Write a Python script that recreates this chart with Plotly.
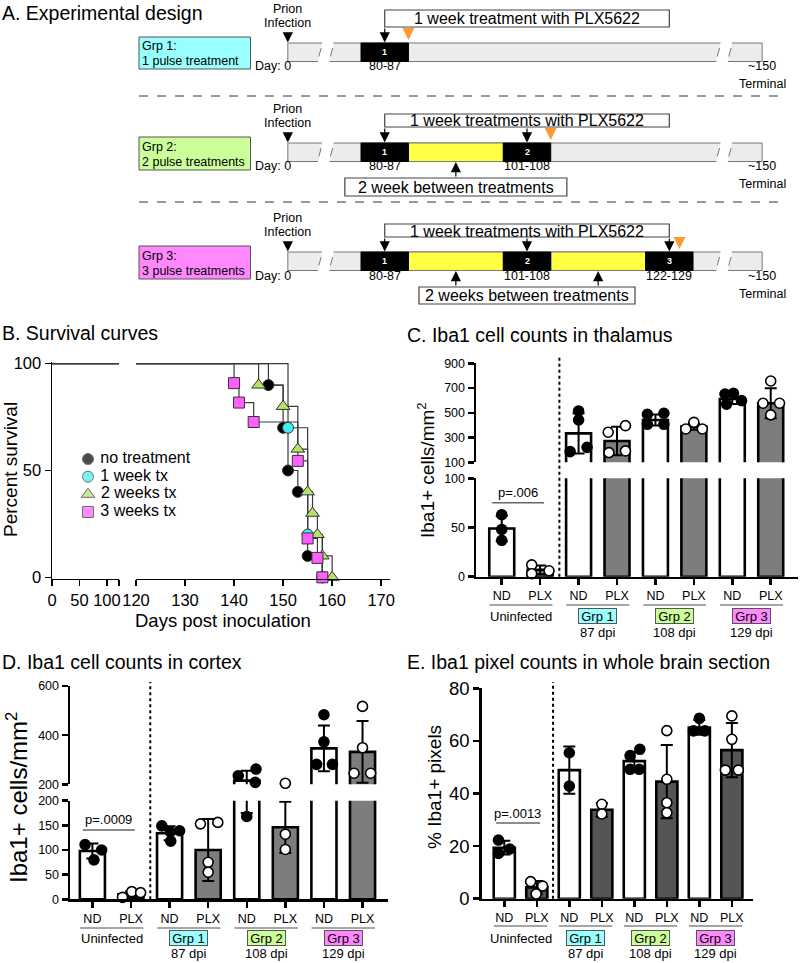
import plotly.graph_objects as go

FONT = "Liberation Sans, Arial, Helvetica, sans-serif"
W, H = 800, 963

# ====================== DATA ======================
# ---- Panel A: experimental design (schematic) ----
A_groups = ["Grp 1:", "Grp 2:", "Grp 3:"]
A_group_desc = ["1 pulse treatment", "2 pulse treatments", "3 pulse treatments"]
A_group_colors = ["#99ffff", "#ccff99", "#ff88ff"]
A_n_pulses = [1, 2, 3]
pulse_start = [80, 101, 122]
pulse_end = [87, 108, 129]
pulse_labels = ["80-87", "101-108", "122-129"]
pulse_numbers = ["1", "2", "3"]
sampling_day = [87, 108, 127]
A_treat_text = ["1 week treatment with PLX5622",
                "1 week treatments with PLX5622",
                "1 week treatments with PLX5622"]
A_gap_text = ["", "2 week between treatments", "2 weeks between treatments"]
infection_text = ["Prion", "Infection"]
day0_text = "Day: 0"
end_text = "~150"
terminal_text = "Terminal"
# schematic (broken) day positions
day0_pos = 69.2
end_pos = 139.2
break_pos = [74.8, 133.6]

# ---- Panel B: survival ----
B_groups = ["no treatment", "1 week tx", "2 weeks tx", "3 weeks tx"]
B_days = [
    [147, 150, 151, 153, 155, 158],
    [151, 155, 158],
    [145, 150, 153, 155, 156, 157, 158, 160],
    [140, 141, 144, 153, 155, 157, 158],
]
B_surv = [
    [90, 70, 50, 40, 10, 0],
    [70, 20, 0],
    [90, 80, 60, 40, 30, 20, 10, 0],
    [90.9, 81.8, 72.7, 54.5, 18.2, 9.1, 0],
]
B_colors = ["#000000", "#40f0f0", "#b5e36a", "#ff5eff"]
B_symbols = ["circle", "circle", "triangle-up", "square"]
B_sizes = [11, 11, 12, 11]
B_left_ticks = [0, 50, 100]
B_right_ticks = [120, 130, 140, 150, 160, 170]

# ---- Bar panels: common categories ----
cat_labels = ["ND", "PLX", "ND", "PLX", "ND", "PLX", "ND", "PLX"]
group_names = ["Uninfected", "Grp 1", "Grp 2", "Grp 3"]
group_dpi = ["", "87 dpi", "108 dpi", "129 dpi"]
group_colors = [None, "#99ffff", "#ccff99", "#ff88ff"]

# ---- Panel C: thalamus ----
C_mean = [49, 7, 334, 272, 442, 388, 612, 577]
C_sd = [13, 4.5, 162, 116, 45, 25, 40, 121]
C_points = [[63, 48, 37], [12, 3, 6], [515, 442, 186, 221], [343, 396, 178, 192],
            [488, 496, 407, 407], [369, 423, 369], [652, 658, 598, 569], [757, 577, 577, 483]]
C_offsets = [[0, 0, 0], [-0.22, -0.22, 0.23], [0, 0, -0.22, 0.22], [-0.23, 0.22, -0.21, 0.22],
             [-0.21, 0.22, -0.21, 0.22], [-0.21, 0, 0.22], [-0.19, 0.03, 0.24, -0.15], [0, -0.2, 0.23, 0]]
C_p = "p=.006"

# ---- Panel D: cortex ----
D_mean = [98, 10, 134, 100, 215, 146, 346, 332]
D_sd = [15, 6, 14, 63, 40, 52, 93, 126]
D_points = [[111, 100, 80], [4, 15.5, 13.5], [149, 137, 139, 118], [153, 156, 75, 55],
            [235, 262, 208, 168], [204, 132, 101], [483, 373, 281, 281], [517, 349, 245, 245]]
D_offsets = [[-0.19, 0.24, 0.04], [-0.22, 0.02, 0.25], [-0.2, 0.02, 0.26, 0.03], [-0.2, 0.25, 0, 0],
             [-0.22, 0.24, 0.22, 0], [0, 0, 0], [0, 0, -0.19, 0.22], [0, 0, -0.22, 0.21]]
D_p = "p=.0009"

# ---- Panel E: whole brain pixel counts ----
E_mean = [19.4, 4.3, 48.9, 33.8, 52.3, 44.5, 65.1, 56.5]
E_sd = [2.6, 2.4, 9, 2.6, 3.6, 13.9, 2.8, 10.3]
E_points = [[22.3, 18.9, 17.2], [6.5, 4.8, 1.8], [55.5, 42.8], [35.9, 32.2],
            [54.4, 56.8, 49.2, 49.2], [63.9, 45.4, 36.5, 32.7], [68.6, 63.8, 63.8], [69.5, 60.6, 48.9, 48.9]]
E_offsets = [[-0.18, 0.17, -0.18], [-0.19, 0.18, -0.02], [0, 0], [0, 0],
             [-0.13, 0.17, -0.13, 0.15], [0, 0, 0, 0], [0, -0.18, 0.17], [0, 0, -0.2, 0.2]]
E_p = "p=.0013"

# ====================== HELPERS ======================
fig = go.Figure()
shapes = []
anns = []


def py(p):
    return 1 - p / H


def pxx(p):
    return p / W


def dom_y(top, bottom):
    return [1 - bottom / H, 1 - top / H]


def dom_x(left, right):
    return [left / W, right / W]


def txt(x, y, s, size, xref="paper", yref="paper", xanchor="center", yanchor="middle",
        color="black", **kw):
    d = dict(x=x, y=y, xref=xref, yref=yref, text=s, showarrow=False,
             font=dict(size=size, color=color, family=FONT), xanchor=xanchor, yanchor=yanchor)
    d.update(kw)
    anns.append(d)


def arrow(x, tip_px, length_px, xref, color="black", up=False, width=1.2):
    anns.append(dict(x=x, y=py(tip_px), xref=xref, yref="paper", text="", showarrow=True,
                     ax=0, ay=(length_px if up else -length_px),
                     arrowhead=2, arrowsize=1.7, arrowwidth=width, arrowcolor=color, standoff=0))


# ====================== PANEL A ======================
XA = "x6"
px_per_day = 6.776
day_at_px0 = 80 - 361 / px_per_day
row_bar_top = [43, 143, 252]
row_bar_h = 18.5
row_treat_box = [(10, 27), (114, 127), (224, 237)]
row_group_box = [(37, 69), (137, 170), (246, 279)]
row_gap_box = [None, (178, 196, 222), (287, 304, 216)]

txt(pxx(0), py(13), "A. Experimental design", 19.5, xanchor="left")

mids = [(s + e) / 2 for s, e in zip(pulse_start, pulse_end)]
for r in range(3):
    top = row_bar_top[r]
    bot = top + row_bar_h
    n = A_n_pulses[r]
    # group label box
    gy0, gy1 = row_group_box[r]
    shapes.append(dict(type="rect", xref="paper", yref="paper", x0=pxx(139), x1=pxx(250.5),
                       y0=py(gy1), y1=py(gy0), fillcolor=A_group_colors[r],
                       line=dict(color="#555", width=1)))
    txt(pxx(140), py(gy0 + 9.5), A_groups[r], 12.5, xanchor="left")
    txt(pxx(140), py(gy0 + 24.5), A_group_desc[r], 12.5, xanchor="left")
    # timeline bar
    shapes.append(dict(type="rect", xref=XA, yref="paper", x0=day0_pos, x1=end_pos,
                       y0=py(bot), y1=py(top), fillcolor="#ececec", line=dict(color="#777", width=1)))
    for k in range(n):
        if k < n - 1:
            shapes.append(dict(type="rect", xref=XA, yref="paper", x0=pulse_end[k], x1=pulse_start[k + 1],
                               y0=py(bot), y1=py(top), fillcolor="#ffff44",
                               line=dict(color="#777", width=1)))
        shapes.append(dict(type="rect", xref=XA, yref="paper", x0=pulse_start[k], x1=pulse_end[k],
                           y0=py(bot), y1=py(top), fillcolor="black", line=dict(color="black", width=1)))
        txt(mids[k], py((top + bot) / 2), "<b>" + pulse_numbers[k] + "</b>", 9, xref=XA, color="white")
        txt(mids[k], py(top + 23.5), pulse_labels[k], 12.5, xref=XA)
    # axis breaks
    for b in break_pos:
        hw, sl = 0.85, 0.35
        path = (f"M {b - hw - sl},{py(bot + 1.5)} L {b + hw - sl},{py(bot + 1.5)} "
                f"L {b + hw + sl},{py(top - 1.5)} L {b - hw + sl},{py(top - 1.5)} Z")
        shapes.append(dict(type="path", xref=XA, yref="paper", path=path, fillcolor="white",
                           line=dict(width=0)))
        for e in (-hw, hw):
            shapes.append(dict(type="line", xref=XA, yref="paper", x0=b + e - sl * 0.5, x1=b + e + sl * 0.5,
                               y0=py(bot - 5), y1=py(top + 5), line=dict(color="#777", width=1)))
    # labels under bar
    txt(day0_pos, py(top + 23.5), day0_text, 12.5, xref=XA, xanchor="right", xshift=5)
    txt(end_pos, py(top + 23.5), end_text, 12.5, xref=XA)
    txt(end_pos, py(top + 41.5), terminal_text, 12.5, xref=XA)
    # infection
    txt(day0_pos, py(top - 34), infection_text[0], 12.5, xref=XA)
    txt(day0_pos, py(top - 20), infection_text[1], 12.5, xref=XA)
    arrow(day0_pos, top - 0.5, 11, XA)
    # treatment box
    ty0, ty1 = row_treat_box[r]
    shapes.append(dict(type="rect", xref=XA, yref="paper", x0=mids[0], x1=mids[-1],
                       y0=py(ty1), y1=py(ty0), fillcolor="white", line=dict(color="#444", width=1.2)))
    txt((mids[0] + mids[-1]) / 2, py((ty0 + ty1) / 2 + 0.5), A_treat_text[r], 16, xref=XA)
    for k in range(n):
        arrow(mids[k], top - 0.5, top - 0.5 - ty1, XA)
    # sampling (orange) arrow
    arrow(sampling_day[r], top - 3, 12, XA, color="#ff9933", width=1.4)
    # between-treatment box
    if n > 1:
        gy_top, gy_bot, gw = row_gap_box[r]
        gaps = [(pulse_end[k] + pulse_start[k + 1]) / 2 for k in range(n - 1)]
        for gm in gaps:
            arrow(gm, bot + 0.5, gy_top - bot - 0.5, XA, up=True)
        gc = sum(gaps) / len(gaps)
        half = gw / 2 / px_per_day
        shapes.append(dict(type="rect", xref=XA, yref="paper", x0=gc - half, x1=gc + half,
                           y0=py(gy_bot), y1=py(gy_top), fillcolor="white",
                           line=dict(color="#444", width=1.2)))
        txt(gc, py((gy_top + gy_bot) / 2 + 0.5), A_gap_text[r], 16, xref=XA)

for yy in (96, 202):
    shapes.append(dict(type="line", xref="paper", yref="paper", x0=pxx(139), x1=pxx(786),
                       y0=py(yy), y1=py(yy), line=dict(color="#333", width=1, dash="dash")))

fig.add_trace(go.Scatter(x=[None], y=[None], xaxis="x6", yaxis="y8", showlegend=False))

# ====================== PANEL B ======================
txt(pxx(0), py(333), "B. Survival curves", 19.5, xanchor="left")
for g in range(4):
    xs = [0] + B_days[g]
    ys = [100] + B_surv[g]
    for xa in ("x", "x2"):
        fig.add_trace(go.Scatter(x=xs, y=ys, mode="lines",
                                 line=dict(shape="hv", color="#3a3a3a", width=1.2),
                                 xaxis=xa, yaxis="y", showlegend=False, hoverinfo="skip"))
for g in range(4):
    fig.add_trace(go.Scatter(x=B_days[g], y=B_surv[g], mode="markers", name=B_groups[g],
                             marker=dict(symbol=B_symbols[g], size=B_sizes[g],
                                         color=B_colors[g], line=dict(color="#333", width=1)),
                             xaxis="x2", yaxis="y", cliponaxis=False, showlegend=False))
# legend drawn as a small categorical chart
fig.add_trace(go.Scatter(x=[0] * len(B_groups), y=B_groups, mode="markers+text",
                         text=[" " + g for g in B_groups], textposition="middle right",
                         textfont=dict(size=16, family=FONT, color="black"),
                         marker=dict(symbol=B_symbols, size=B_sizes, color=B_colors,
                                     line=dict(color="#333", width=1)),
                         xaxis="x7", yaxis="y9", cliponaxis=False, showlegend=False, hoverinfo="skip"))
txt(pxx(10), py(470), "Percent survival", 19, textangle=-90)
txt(pxx(223), py(620), "Days post inoculation", 18.5)

b_axis = dict(showline=True, linewidth=1.5, linecolor="black", ticks="outside", ticklen=6,
              tickwidth=1.5, tickcolor="black", tickfont=dict(size=16.5, color="black", family=FONT),
              showgrid=False, zeroline=False)

# ====================== BAR PANELS ======================


def bar_panel(xa, yaxes, means, sds, points, offsets, plx_color):
    pos = list(range(len(means)))
    colors = ["white" if i % 2 == 0 else plx_color for i in pos]
    for ya, lo, hi in yaxes:
        fig.add_trace(go.Bar(x=pos, y=means, width=0.65,
                             marker=dict(color=colors, line=dict(color="black", width=2.6)),
                             xaxis=xa, yaxis=ya, showlegend=False, hoverinfo="skip"))
        fig.add_trace(go.Scatter(x=pos, y=means, mode="markers",
                                 marker=dict(size=1, color="rgba(0,0,0,0)"),
                                 error_y=dict(type="data", array=sds, color="black", thickness=2, width=6),
                                 xaxis=xa, yaxis=ya, showlegend=False, hoverinfo="skip", cliponaxis=True))
        for filled in (True, False):
            xs, ys = [], []
            for i in pos:
                if (i % 2 == 0) != filled:
                    continue
                for v, o in zip(points[i], offsets[i]):
                    if lo <= v <= hi:
                        xs.append(i + o)
                        ys.append(v)
            fig.add_trace(go.Scatter(x=xs, y=ys, mode="markers",
                                     marker=dict(size=10, color="black" if filled else "white",
                                                 line=dict(color="black", width=1.6)),
                                     xaxis=xa, yaxis=ya, showlegend=False, hoverinfo="skip",
                                     cliponaxis=False))


def group_labels(xa, y_ul, y_row, y_dpi):
    for g in range(4):
        c = 2 * g + 0.5
        shapes.append(dict(type="line", xref=xa, yref="paper", x0=c - 0.82, x1=c + 0.82,
                           y0=py(y_ul), y1=py(y_ul), line=dict(color="#888", width=1.5)))
        if group_colors[g] is None:
            txt(c, py(y_row), group_names[g], 13, xref=xa)
        else:
            txt(c, py(y_row), group_names[g], 13, xref=xa, bgcolor=group_colors[g],
                bordercolor="#555", borderwidth=1, borderpad=0, width=37, height=14)
            txt(c, py(y_dpi), group_dpi[g], 13, xref=xa)


def sig(xa, text, y_line, y_text):
    shapes.append(dict(type="line", xref=xa, yref="paper", x0=-0.25, x1=1.1,
                       y0=py(y_line), y1=py(y_line), line=dict(color="#666", width=1.5)))
    txt(0.42, py(y_text), text, 13, xref=xa)


def divider(xa, y_top, y_bot):
    shapes.append(dict(type="line", xref=xa, yref="paper", x0=1.5, x1=1.5,
                       y0=py(y_bot), y1=py(y_top), line=dict(color="black", width=2, dash="dot")))


def bar_xaxis(dom, rng, anchor):
    return dict(domain=dom, range=rng, anchor=anchor, tickmode="array", tickvals=list(range(8)),
                ticktext=cat_labels, showline=True, linewidth=2.5, linecolor="black", ticks="outside",
                ticklen=6, tickwidth=2.5, tickcolor="black",
                tickfont=dict(size=12.5, color="black", family=FONT),
                showgrid=False, zeroline=False)


def bar_yaxis(dom, rng, anchor, tickvals, size=12.5):
    return dict(domain=dom, range=rng, anchor=anchor, tickmode="array", tickvals=tickvals,
                showline=True, linewidth=2.5, linecolor="black", ticks="outside", ticklen=6,
                tickwidth=2.5, tickcolor="black", tickfont=dict(size=size, color="black", family=FONT),
                showgrid=False, zeroline=False)


# Panel C
txt(pxx(405), py(335), "C. Iba1 cell counts in thalamus", 19.5, xanchor="left")
bar_panel("x3", [("y3", 0, 100), ("y4", 100, 900)], C_mean, C_sd, C_points, C_offsets, "#7d7d7d")
group_labels("x3", 605, 616, 632)
sig("x3", C_p, 502.7, 492.7)
divider("x3", 357, 576.7)
txt(pxx(426), py(470), "Iba1+ cells/mm<sup>2</sup>", 19, textangle=-90)

# Panel D
txt(pxx(0), py(662), "D. Iba1 cell counts in cortex", 19.5, xanchor="left")
bar_panel("x4", [("y5", 0, 200), ("y6", 200, 600)], D_mean, D_sd, D_points, D_offsets, "#7d7d7d")
group_labels("x4", 928, 938, 953)
sig("x4", D_p, 830, 819)
divider("x4", 682, 899.3)
txt(pxx(17), py(798), "Iba1+ cells/mm<sup>2</sup>", 24, textangle=-90)

# Panel E
txt(pxx(405), py(662), "E. Iba1 pixel counts in whole brain section", 19.5, xanchor="left")
bar_panel("x5", [("y7", 0, 80)], E_mean, E_sd, E_points, E_offsets, "#555555")
group_labels("x5", 926, 938, 953)
sig("x5", E_p, 823, 813)
divider("x5", 682, 898.7)
txt(pxx(434), py(787), "% Iba1+ pixels", 19, textangle=-90)

# ====================== LAYOUT ======================
fig.update_layout(
    width=W, height=H, margin=dict(l=0, r=0, t=0, b=0, pad=0, autoexpand=False),
    paper_bgcolor="white", plot_bgcolor="rgba(0,0,0,0)",
    font=dict(family=FONT, color="black"),
    showlegend=False,
    xaxis=dict(domain=dom_x(52, 119), range=[0, 122], anchor="y", tickmode="array",
               tickvals=B_left_ticks + [122], ticktext=[str(t) for t in B_left_ticks] + [""], **b_axis),
    xaxis2=dict(domain=dom_x(136, 390), range=[120, 171.8], anchor="y", tickmode="array",
                tickvals=B_right_ticks, **b_axis),
    yaxis=dict(domain=dom_y(362.4, 578.6), range=[-0.6, 100.6], anchor="x", tickmode="array",
               tickvals=[0, 50, 100], **b_axis),
    xaxis3=bar_xaxis(dom_x(476, 798), [-0.67, 7.71], "y3"),
    yaxis3=bar_yaxis(dom_y(478.3, 576.7), [0, 100], "x3", [0, 50, 100]),
    yaxis4=bar_yaxis(dom_y(363.3, 462.3), [100, 900], "x3", [100, 300, 500, 700, 900]),
    xaxis4=bar_xaxis(dom_x(70, 388), [-0.58, 7.66], "y5"),
    yaxis5=bar_yaxis(dom_y(800.7, 899.3), [0, 200], "x4", [0, 50, 100, 150, 200]),
    yaxis6=bar_yaxis(dom_y(686, 784.3), [200, 600], "x4", [200, 400, 600]),
    xaxis5=bar_xaxis(dom_x(481.7, 753.3), [-0.695, 7.66], "y7"),
    yaxis7=bar_yaxis(dom_y(688.3, 898.7), [0, 80], "x5", [0, 20, 40, 60, 80], size=18.5),
    xaxis6=dict(domain=[0, 1], range=[day_at_px0, day_at_px0 + W / px_per_day], anchor="y8",
                visible=False, fixedrange=True),
    yaxis8=dict(domain=dom_y(0, 310), range=[0, 1], anchor="x6", visible=False, fixedrange=True),
    xaxis7=dict(domain=dom_x(80, 200), range=[-1, 14], anchor="y9", visible=False, fixedrange=True),
    yaxis9=dict(domain=dom_y(450.2, 520.8), range=[3.5, -0.5], anchor="x7", type="category",
                categoryorder="array", categoryarray=B_groups, visible=False, fixedrange=True),
    shapes=shapes,
    annotations=anns,
)

fig.write_html("out.html", config={"displayModeBar": False, "staticPlot": True},
               post_script="document.body.style.margin='0px';document.body.style.padding='0px';")
